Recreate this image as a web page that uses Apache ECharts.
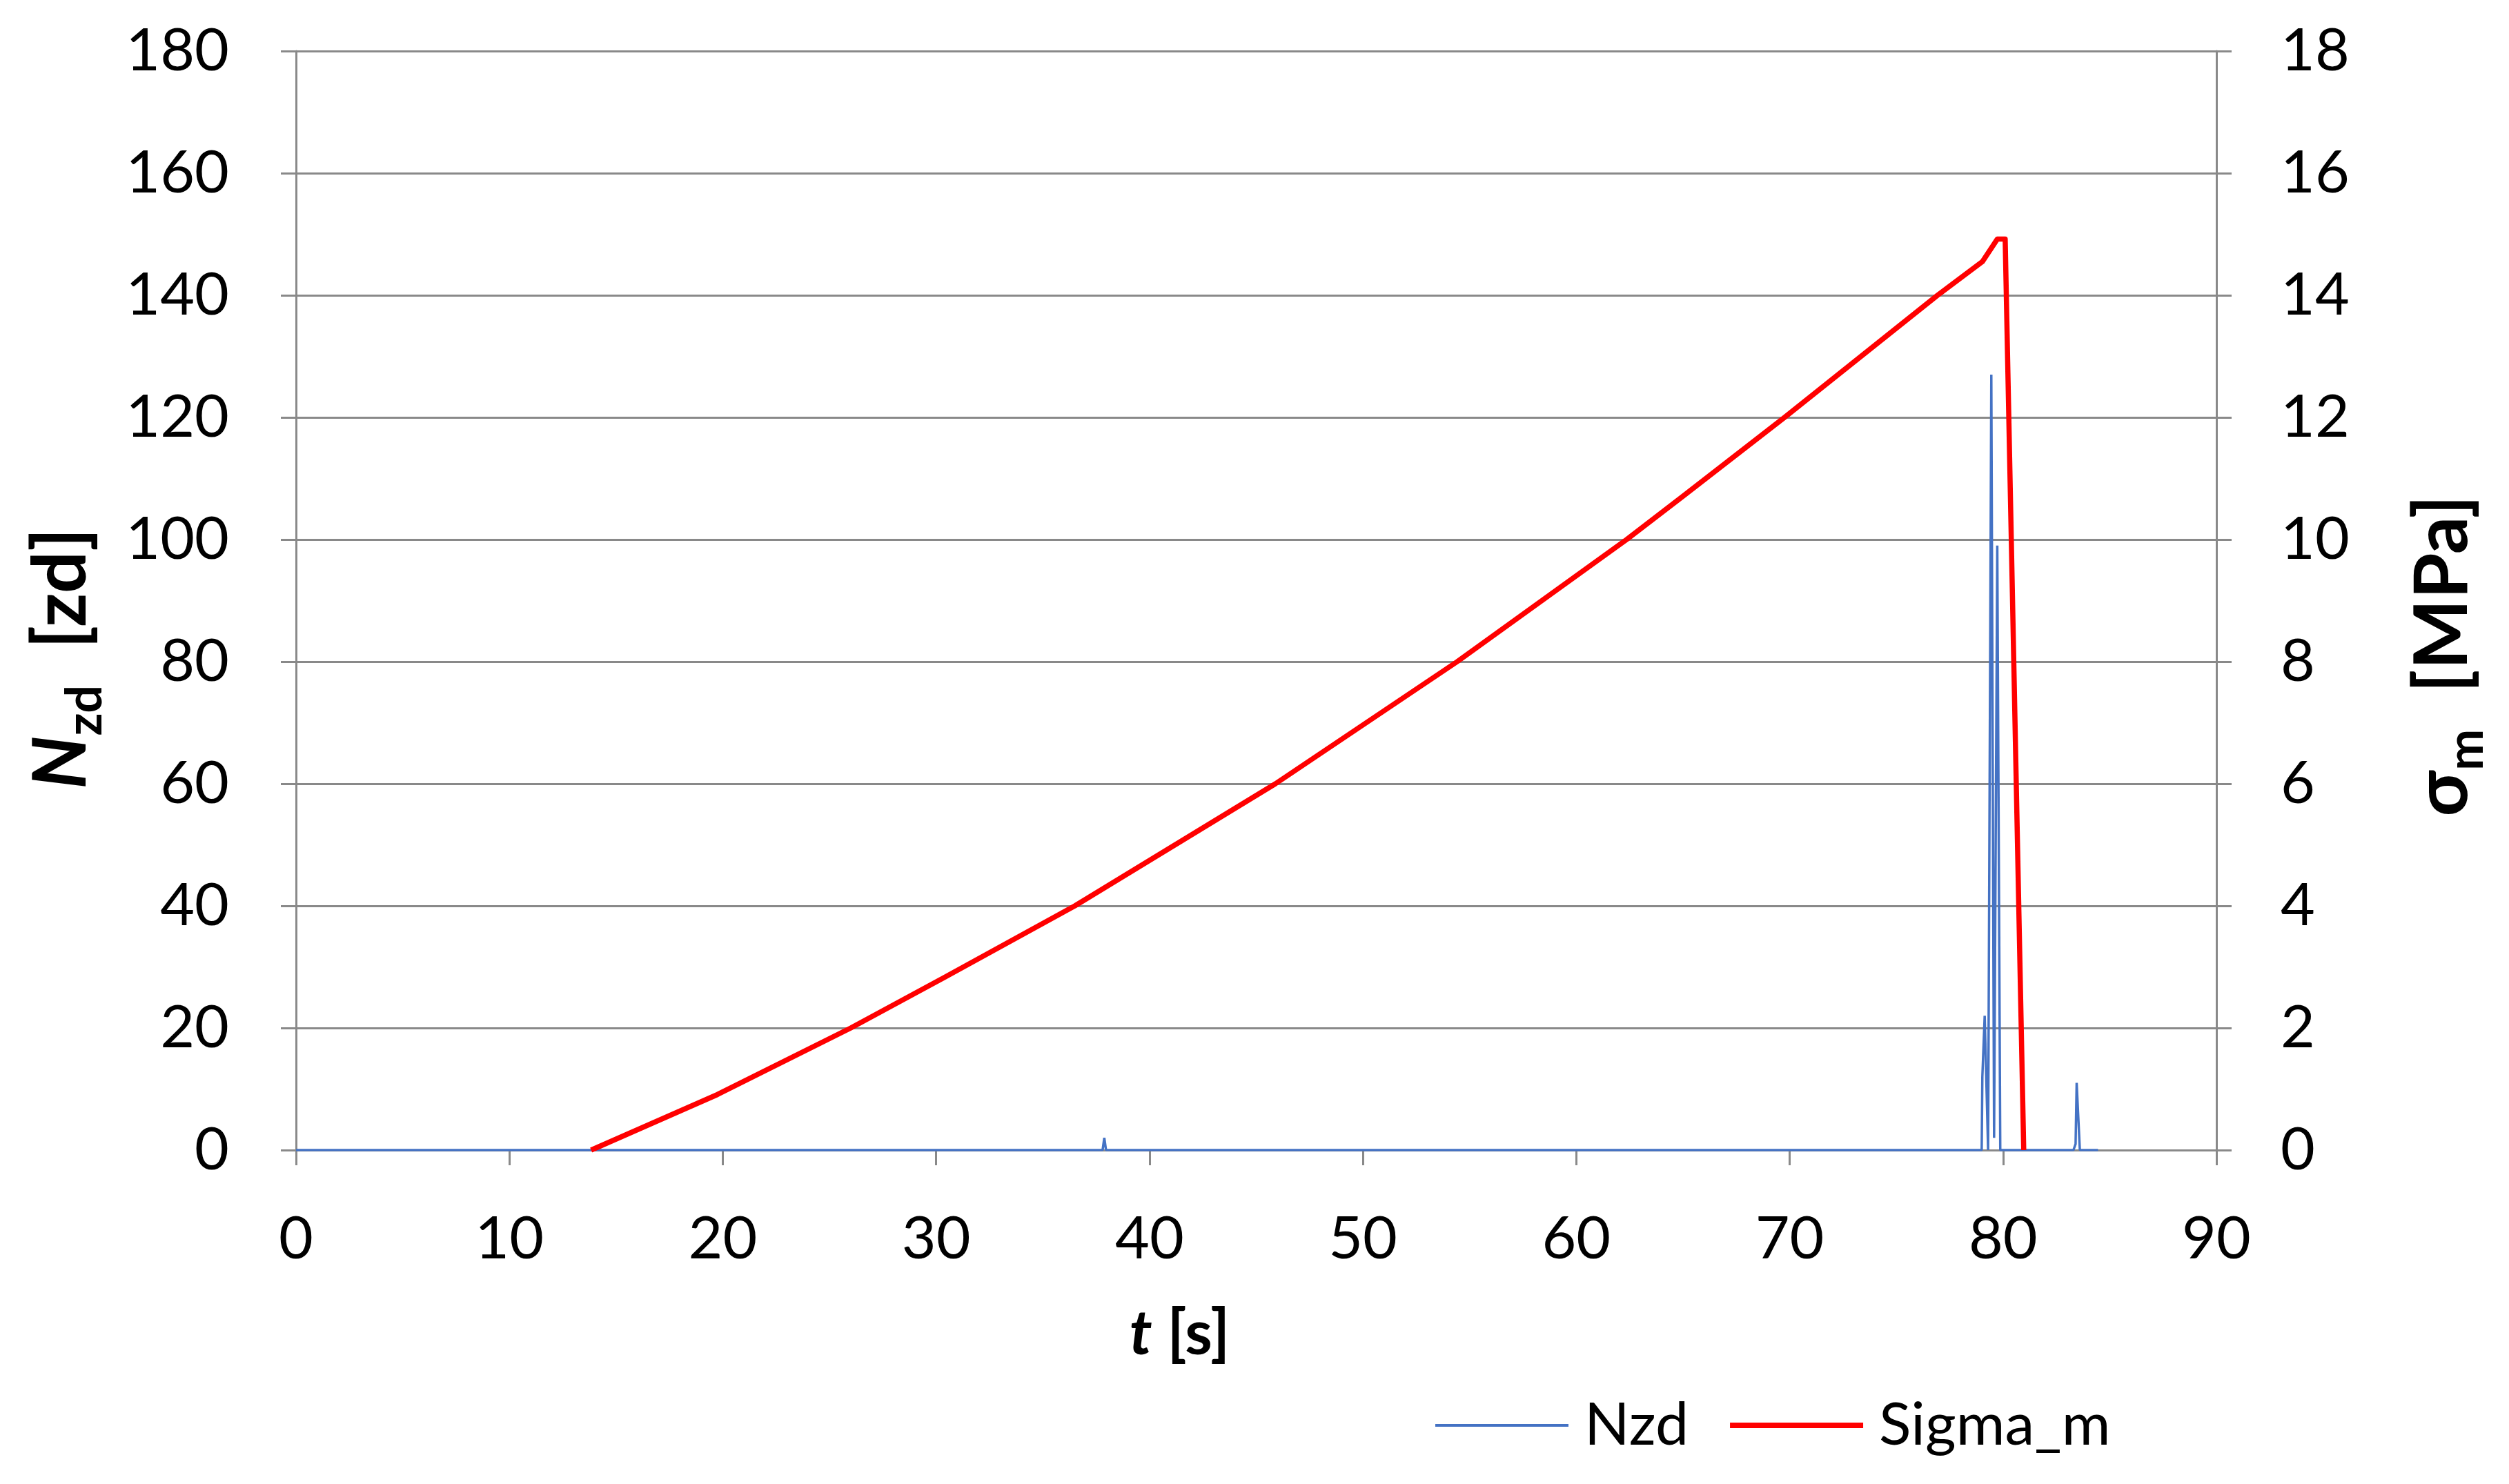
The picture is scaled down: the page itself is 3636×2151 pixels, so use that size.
<!DOCTYPE html>
<html>
<head>
<meta charset="utf-8">
<script src="https://cdn.jsdelivr.net/npm/echarts@6/dist/echarts.min.js"></script>
<style>
  html, body { margin: 0; padding: 0; background: #fff; }
  #chart { width: 3636px; height: 2151px; }
</style>
</head>
<body>
<div id="chart"></div>
<script>
// Nzd (count, left axis) - time in s
var nzdT = [0, 37.8, 37.88, 37.96, 79.0, 79.03, 79.14, 79.3, 79.45, 79.58, 79.73, 79.87, 83.3, 83.4, 83.45, 83.6, 84.45];
var nzdV = [0, 0, 2, 0, 0, 12, 22, 0, 127, 2, 99, 0, 0, 1, 11, 0, 0];

// Sigma_m (MPa, right axis)
var sigT = [13.83, 19.75, 26.0, 30.4, 36.5, 45.9, 54.42, 62.36, 65.0, 69.76, 76.93, 79.03, 79.73, 80.1, 80.97];
var sigV = [0, 0.91, 2.0, 2.83, 4.0, 6.0, 8.0, 10.0, 10.71, 12.0, 14.0, 14.55, 14.92, 14.92, 0];

var xTicks = { min: 0, max: 90, interval: 10 };
var leftTicks = { min: 0, max: 180, interval: 20 };
var rightTicks = { min: 0, max: 18, interval: 2 };

var FONT = 'Lato, "Noto Sans", sans-serif';
var GRAY = '#898989';
var BLUE = '#4472C4';
var RED = '#FF0000';

var chart = echarts.init(document.getElementById('chart'));

var axisCommon = {
  axisLine: { show: true, lineStyle: { color: GRAY, width: 3 } },
  axisTick: { show: true, inside: false, length: 22, lineStyle: { color: GRAY, width: 3 } },
  axisLabel: { color: '#000', fontSize: 86, fontFamily: FONT }
};

var option = {
  backgroundColor: '#fff',
  animation: false,
  grid: { left: 429, right: 424, top: 74, bottom: 484 },
  legend: {
    left: 2075,
    top: 2018,
    itemWidth: 193,
    itemHeight: 30,
    itemGap: 60,
    textStyle: { color: '#000', fontSize: 86, fontFamily: FONT, padding: [0, 0, 0, 18] },
    // plain line icons, no marker dot
    data: [
      { name: 'Nzd', icon: 'path://M0,0H193V4H0Z', itemStyle: { color: BLUE } },
      { name: 'Sigma_m', icon: 'path://M0,0H193V8H0Z', itemStyle: { color: RED } }
    ]
  },
  xAxis: {
    type: 'value',
    min: xTicks.min, max: xTicks.max, interval: xTicks.interval,
    splitLine: { show: false },
    axisLine: axisCommon.axisLine,
    axisTick: axisCommon.axisTick,
    axisLabel: Object.assign({ margin: 86 }, axisCommon.axisLabel),
    name: '{it|t}{b| [s]}',
    nameLocation: 'middle',
    nameGap: 222,
    nameTextStyle: {
      rich: {
        it: { fontSize: 90, fontWeight: 'bold', fontStyle: 'italic', fontFamily: FONT, color: '#000' },
        b: { fontSize: 90, fontWeight: 'bold', fontFamily: FONT, color: '#000', padding: [0, 222, 0, 0] }
      }
    }
  },
  yAxis: [
    {
      type: 'value',
      position: 'left',
      min: leftTicks.min, max: leftTicks.max, interval: leftTicks.interval,
      splitLine: { show: true, lineStyle: { color: GRAY, width: 3 } },
      axisLine: axisCommon.axisLine,
      axisTick: axisCommon.axisTick,
      axisLabel: Object.assign({ margin: 97 }, axisCommon.axisLabel),
      name: '{it|N}{sub|zd}{b|  [zd]}',
      nameLocation: 'middle',
      nameRotate: 90,
      nameGap: 269,
      nameTextStyle: {
        rich: {
          it: { fontSize: 108, fontWeight: 'bold', fontStyle: 'italic', fontFamily: FONT, color: '#000' },
          sub: { fontSize: 72, fontWeight: 'bold', fontFamily: FONT, color: '#000', padding: [70, 0, 0, 0] },
          b: { fontSize: 108, fontWeight: 'bold', fontFamily: FONT, color: '#000', padding: [0, 168, 0, 0] }
        }
      }
    },
    {
      type: 'value',
      position: 'right',
      min: rightTicks.min, max: rightTicks.max, interval: rightTicks.interval,
      splitLine: { show: false },
      axisLine: axisCommon.axisLine,
      axisTick: axisCommon.axisTick,
      axisLabel: Object.assign({ margin: 93 }, axisCommon.axisLabel),
      name: '{s|σ}{sub|m}{b|  [MPa]}',
      nameLocation: 'middle',
      nameRotate: 90,
      nameGap: 257,
      nameTextStyle: {
        rich: {
          s: { fontSize: 108, fontWeight: 'bold', fontFamily: FONT, color: '#000' },
          sub: { fontSize: 72, fontWeight: 'bold', fontFamily: FONT, color: '#000', padding: [70, 0, 0, 0] },
          b: { fontSize: 108, fontWeight: 'bold', fontFamily: FONT, color: '#000', padding: [0, 160, 0, 0] }
        }
      }
    }
  ],
  series: [
    {
      name: 'Nzd',
      type: 'line',
      xAxisIndex: 0,
      yAxisIndex: 0,
      symbol: 'none',
      color: BLUE,
      lineStyle: { color: BLUE, width: 3.5 },
      data: nzdT.map(function (t, i) { return [t, nzdV[i]]; })
    },
    {
      name: 'Sigma_m',
      type: 'line',
      xAxisIndex: 0,
      yAxisIndex: 1,
      symbol: 'none',
      color: RED,
      lineStyle: { color: RED, width: 7.5, join: 'round' },
      data: sigT.map(function (t, i) { return [t, sigV[i]]; })
    }
  ]
};

chart.setOption(option);
window.addEventListener('resize', function () { chart.resize(); });
</script>
</body>
</html>
